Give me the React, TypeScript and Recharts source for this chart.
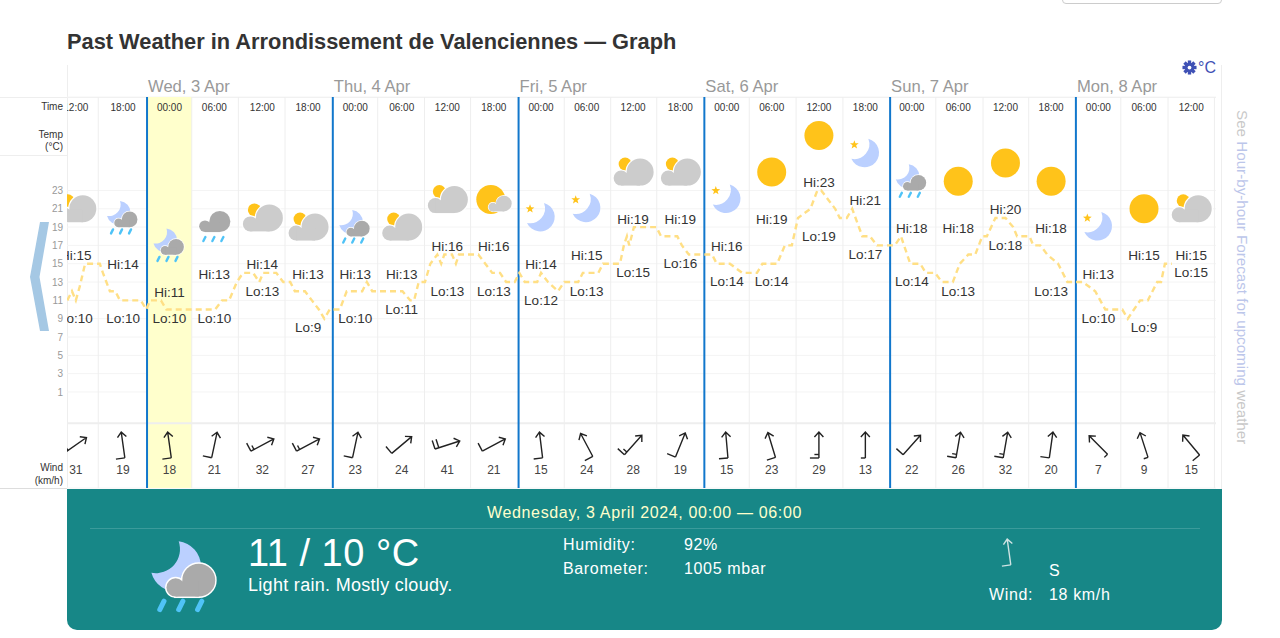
import {
    ComposedChart,
    Line,
    Scatter,
    XAxis,
    YAxis,
    CartesianGrid,
    ReferenceLine,
    ReferenceArea
} from 'recharts';

const FONT = '"Liberation Sans", Arial, sans-serif';

// hours counted from Wed 3 Apr 00:00
const HOUR_MIN = -10.34;
const HOUR_MAX = 138.1;
const TEMP_MIN = -9.48;
const TEMP_MAX = 33.2;

const tempTicks = [1, 3, 5, 7, 9, 11, 13, 15, 17, 19, 21, 23];
const dayStarts = [0, 24, 48, 72, 96, 120];
const dayLabels = ['Wed, 3 Apr', 'Thu, 4 Apr', 'Fri, 5 Apr', 'Sat, 6 Apr', 'Sun, 7 Apr', 'Mon, 8 Apr'];
const columnEdges = [-6.3, 5.78, 11.8, 17.83, 29.8, 35.85, 41.8, 53.9, 59.9, 65.85, 77.8, 83.85, 89.9, 101.9, 108, 113.9, 125.8, 131.9, 137.9];

const slotHours = [-9.2, -3.1, 2.9, 8.7, 14.9, 20.8, 26.9, 32.9, 38.8, 44.8, 50.9, 56.8, 62.8, 68.9, 74.9, 80.7, 86.8, 92.8, 98.8, 104.8, 110.9, 116.8, 122.9, 128.8, 134.9];
const slotTimes = ['12:00', '18:00', '00:00', '06:00', '12:00', '18:00', '00:00', '06:00', '12:00', '18:00', '00:00', '06:00', '12:00', '18:00', '00:00', '06:00', '12:00', '18:00', '00:00', '06:00', '12:00', '18:00', '00:00', '06:00', '12:00'];
const hiTemps = [15, 14, 11, 13, 14, 13, 13, 13, 16, 16, 14, 15, 19, 19, 16, 19, 23, 21, 18, 18, 20, 18, 13, 15, 15];
const loTemps = [10, 10, 10, 10, 13, 9, 10, 11, 13, 13, 12, 13, 15, 16, 14, 14, 19, 17, 14, 13, 18, 13, 10, 9, 15];
const windSpeeds = [31, 19, 18, 21, 32, 27, 23, 24, 41, 21, 15, 24, 28, 19, 15, 23, 29, 13, 22, 26, 32, 20, 7, 9, 15];
const windBearings = [55, 352, 352, 12, 62, 62, 12, 50, 72, 62, 353, 332, 42, 22, 355, 343, 0, 0, 42, 10, 10, 8, 315, 342, 320];
const slotIcons = ['partly', 'moonRain', 'moonRain', 'cloudRain', 'partly', 'partly', 'moonRain', 'partly', 'partly', 'sunCloud', 'moon', 'moon', 'partly', 'partly', 'moon', 'sun', 'sun', 'moon', 'moonRain', 'sun', 'sun', 'sun', 'moon', 'sun', 'partly'];

const lineHours = [-10.3, -9.7, -9.2, -8.7, -8, -7.4, -6.1, -5.7, -4.8, -4.1, -3.5, -0.8, -0.1, 0.4, 1.8, 2.5, 8.8, 9.7, 10.6, 11.6, 12.4, 13.7, 14.5, 15, 16.7, 17.6, 18.5, 19.1, 20.4, 21.3, 22.2, 22.9, 23.6, 24.9, 25.8, 27.8, 28.4, 29.1, 33, 34, 34.5, 35.1, 35.9, 36.6, 37.5, 38, 38.4, 39.4, 39.9, 40.3, 42.8, 43.7, 44.6, 45.6, 46.4, 47.5, 48.1, 48.8, 50.4, 50.9, 51.8, 53.1, 53.9, 55.7, 56.3, 58.3, 58.9, 61.1, 61.6, 62, 62.3, 62.9, 65.8, 66.4, 68.5, 69.1, 70, 73, 73.6, 75.3, 76.9, 78.8, 79.5, 81.4, 82.4, 83.3, 84.1, 85.7, 86.6, 87.1, 88.9, 89.5, 90.4, 91.1, 92.4, 93.4, 94.3, 96.6, 97.4, 98.6, 99.9, 100.6, 101.8, 102.7, 104.1, 105, 106.1, 107, 107.9, 108.5, 109.6, 110.9, 111.9, 112.4, 114, 114.5, 115.4, 116.3, 117.7, 118.9, 120.9, 122.5, 123.8, 126, 126.7, 128.3, 129.3, 130.5, 131, 131.5, 132.4];
const lineTemps = [11, 12, 11, 12.5, 15, 15, 15, 14, 12, 12, 11, 11, 10, 11, 11, 10, 10, 11, 11, 13, 14, 14, 13, 14, 14, 13, 13, 12, 12, 11, 10, 9, 10, 10, 12, 12, 13, 12, 12, 11, 11, 13, 13, 15, 16, 15, 16, 16, 15, 16, 16, 15, 14, 14, 13, 13, 14, 13, 13, 14, 13, 12, 13, 13, 14, 14, 15, 15, 17, 18, 17, 19, 19, 18, 18, 17, 16, 16, 15, 15, 14, 14, 15, 15, 17, 17, 20, 21, 23, 23, 21, 20, 20, 21, 18, 18, 17, 17, 18, 15, 15, 14, 14, 13, 13, 15, 16, 16, 18, 18, 20, 20, 19, 18, 18, 17, 17, 16, 15, 13, 13, 12, 10, 10, 9, 11, 11, 13, 13, 15, 15];

const lineData = lineHours.map((h, i) => ({ h, t: lineTemps[i] }));
const hiData = slotHours.map((h, i) => ({ h, t: hiTemps[i], icon: slotIcons[i] }));
const loData = slotHours.map((h, i) => ({ h, t: loTemps[i] }));

const CLIP = 'url(#plotClip)';
const GOLD = '#ffc31a';
const MOON = '#bbd0ff';
const RAIN = '#4fc3f7';

const Cloud = ({ fill, transform }: { fill: string; transform?: string }) => {
    const parts = (props: any) => (
        <g {...props}>
            <circle cx={7} cy={0} r={13.5} />
            <circle cx={-12} cy={6} r={7.5} />
            <rect x={-12} y={1} width={19} height={12.5} />
        </g>
    );
    return (
        <g transform={transform}>
            {parts({ fill: '#fff', stroke: '#fff', strokeWidth: 2.4 })}
            {parts({ fill })}
        </g>
    );
};

const Drops = ({ y, xs }: { y: number; xs: number[] }) => (
    <g stroke={RAIN} strokeWidth={2.4} strokeLinecap="round">
        {xs.map(x => <line key={x} x1={x + 1} y1={y} x2={x - 1} y2={y + 4} />)}
    </g>
);

const Star = ({ x, y }: { x: number; y: number }) => {
    const pts = Array.from({ length: 10 }, (_, i) => {
        const r = i % 2 ? 1.9 : 4.6;
        const a = (Math.PI / 5) * i - Math.PI / 2;
        return `${x + r * Math.cos(a)},${y + r * Math.sin(a)}`;
    }).join(' ');
    return <polygon points={pts} fill={GOLD} />;
};

const MoonRain = () => (
    <g>
        <path d="M-3,-17 A12,12 0 1 1 -16,-2 A11.5,11.5 0 0 0 -3,-17 Z" fill={MOON} />
        <Cloud fill="#aaaaaa" transform="translate(2.5,1.5) scale(0.58)" />
        <Drops y={11.5} xs={[-11, -2, 7]} />
    </g>
);

const WeatherIcon = ({ kind }: { kind: string }) => {
    if (kind === 'sun') return <circle r={14.5} fill={GOLD} />;
    if (kind === 'partly') {
        return (
            <g>
                <circle cx={-8} cy={-8} r={6.5} fill={GOLD} />
                <Cloud fill="#cccccc" />
            </g>
        );
    }
    if (kind === 'sunCloud') {
        return (
            <g>
                <circle cx={-3} cy={0} r={14.5} fill={GOLD} />
                <Cloud fill="#cccccc" transform="translate(6,4) scale(0.58)" />
            </g>
        );
    }
    if (kind === 'moon') {
        return (
            <g>
                <path d="M3,-15 A14.5,14.5 0 1 1 -14,5 A15,15 0 0 0 3,-15 Z" fill={MOON} />
                <Star x={-11} y={-9} />
            </g>
        );
    }
    if (kind === 'cloudRain') {
        return (
            <g>
                <Cloud fill="#aaaaaa" transform="translate(0,-5.5) scale(0.78)" />
                <Drops y={10} xs={[-10, -1, 8]} />
            </g>
        );
    }
    return <MoonRain />;
};

// wind barb, pointing north before rotation, feathers on the tail
const WindBarb = ({ bearing, speed, color = '#222' }: { bearing: number; speed: number; color?: string }) => {
    const long = speed >= 40 ? 2 : speed >= 15 ? 1 : 0;
    const short = speed < 15 || (speed >= 26 && speed < 40) ? 1 : 0;
    return (
        <g transform={`rotate(${bearing})`} stroke={color} strokeWidth={1.4} fill="none">
            <path d="M0,13 L0,-13 M-4.5,-8 L0,-13 L4.5,-8" />
            {long > 0 && <line x1={0} y1={13} x2={-9} y2={13} />}
            {long > 1 && <line x1={0} y1={9} x2={-9} y2={9} />}
            {short > 0 && <line x1={0} y1={long ? 9.5 : 13} x2={-4.5} y2={long ? 9.5 : 13} />}
        </g>
    );
};

// one tick per table column: the time on top, the wind row below
const SlotTick = ({ x, index }: any) => (
    <g clipPath={CLIP}>
        <text x={x} y={110.5} fill="#333" fontSize={10} textAnchor="middle" fontFamily={FONT}>{slotTimes[index]}</text>
        <g transform={`translate(${x},445)`}>
            <WindBarb bearing={windBearings[index]} speed={windSpeeds[index]} />
        </g>
        <text x={x} y={474} fill="#444" fontSize={12} textAnchor="middle" fontFamily={FONT}>{windSpeeds[index]}</text>
    </g>
);

const DayLabel = (text: string) => (p: any) => (
    <text x={p.viewBox.x + 1} y={92} fill="#999" fontSize={16.6} fontFamily={FONT}>{text}</text>
);

const HiMark = ({ cx, cy, payload }: any) => (
    <g clipPath={CLIP}>
        <g transform={`translate(${cx},${cy - 55})`}>
            <WeatherIcon kind={payload.icon} />
        </g>
        <text x={cx} y={cy - 3.5} fill="#333" fontSize={13.5} textAnchor="middle" fontFamily={FONT}>Hi:{payload.t}</text>
    </g>
);

const LoMark = ({ cx, cy, payload }: any) => (
    <text x={cx} y={cy + 13.5} fill="#333" fontSize={13.5} textAnchor="middle" fontFamily={FONT} clipPath={CLIP}>Lo:{payload.t}</text>
);

const label = (top: number, text: string) => (
    <div style={{ position: 'absolute', right: 1217, top, fontSize: 10, color: '#333', whiteSpace: 'nowrap', lineHeight: '12px' }}>{text}</div>
);
const box = (left: number, top: number, width: number, height: number, background: string) => (
    <div style={{ position: 'absolute', left, top, width, height, background }} />
);
const panelText = (left: number, top: number, text: string, style?: any) => (
    <div style={{ position: 'absolute', left, top, whiteSpace: 'nowrap', fontSize: 16, letterSpacing: 0.65, color: '#fff', lineHeight: '18px', ...style }}>{text}</div>
);

export default function App() {
    return (
        <div style={{ position: 'absolute', left: 0, top: 0, width: 1280, height: 638, overflow: 'hidden', background: '#fff', fontFamily: FONT }}>
            <div style={{ position: 'absolute', left: 1062, top: -20, width: 158, height: 22, border: '1px solid #ccc', borderRadius: 4 }} />
            <div style={{ position: 'absolute', left: 67, top: 29, fontSize: 21.8, fontWeight: 700, color: '#333', whiteSpace: 'nowrap' }}>
                Past Weather in Arrondissement de Valenciennes — Graph
            </div>

            {box(67, 65, 1, 423, '#eee')}
            {box(1221, 65, 1, 424, '#eee')}
            {box(0, 97, 1216, 1, '#eee')}
            {box(0, 155, 67, 1, '#eee')}
            {box(0, 488, 67, 1, '#ddd')}

            <div style={{ position: 'absolute', left: 0, top: 0 }}>
                <ComposedChart width={1280} height={638} margin={{ top: 97, right: 64, bottom: 150, left: 0 }}>
                    <defs>
                        <clipPath id="plotClip">
                            <rect x={67} y={0} width={1149} height={638} />
                        </clipPath>
                    </defs>
                    <CartesianGrid vertical={false} stroke="#f4f4f4" />
                    <XAxis dataKey="h" type="number" domain={[HOUR_MIN, HOUR_MAX]} allowDataOverflow ticks={slotHours} interval={0} mirror axisLine={false} tickLine={false} tick={(p: any) => <SlotTick {...p} />} />
                    <YAxis dataKey="t" type="number" domain={[TEMP_MIN, TEMP_MAX]} allowDataOverflow ticks={tempTicks} interval={0} width={67} axisLine={false} tickSize={0} tickMargin={4} tick={{ fontSize: 10, fill: '#999', fontFamily: FONT }} />

                    <ReferenceLine y={-2.4} stroke="#eeeeee" strokeWidth={2} />
                    <ReferenceArea x1={0} x2={5.78} fill="#ffffcc" fillOpacity={1} stroke="none" />
                    {columnEdges.map(h => <ReferenceLine key={h} x={h} stroke="#eeeeee" />)}
                    {dayStarts.map((h, i) => <ReferenceLine key={h} x={h} stroke="#1177cc" strokeWidth={2} label={DayLabel(dayLabels[i])} />)}

                    <Line data={lineData} dataKey="t" type="linear" stroke="#ffdf85" strokeWidth={2.4} strokeDasharray="6 4" dot={false} isAnimationActive={false} />
                    <Scatter data={hiData} dataKey="t" isAnimationActive={false} shape={(p: any) => <HiMark {...p} />} />
                    <Scatter data={loData} dataKey="t" isAnimationActive={false} shape={(p: any) => <LoMark {...p} />} />
                </ComposedChart>
            </div>

            <svg style={{ position: 'absolute', left: 0, top: 0 }} width={67} height={400}>
                <polygon points="40,222 49,222 39.5,277 49,331 40,331 30,277" fill="#a5c8e4" />
            </svg>

            {label(101, 'Time')}
            {label(129, 'Temp')}
            {label(141, '(°C)')}
            {label(462, 'Wind')}
            {label(475, '(km/h)')}

            <svg style={{ position: 'absolute', left: 1182, top: 60 }} width={15} height={15} viewBox="-8 -8 16 16">
                {[0, 45, 90, 135].map(a => <rect key={a} x={-1.8} y={-7.5} width={3.6} height={15} fill="#3f51b5" transform={`rotate(${a})`} />)}
                <circle r={5.2} fill="#3f51b5" />
                <circle r={2} fill="#fff" />
            </svg>
            <div style={{ position: 'absolute', left: 1198, top: 59, fontSize: 16, color: '#3f51b5' }}>°C</div>

            <div style={{ position: 'absolute', left: 1234, top: 110, writingMode: 'vertical-rl', fontSize: 15.2, whiteSpace: 'nowrap', color: '#c8c8c8' }}>
                See <span style={{ color: '#bcc6ea' }}>Hour-by-hour Forecast for upcoming</span> weather
            </div>

            <div style={{ position: 'absolute', left: 67, top: 489, width: 1155, height: 141, background: '#178787', borderRadius: '0 0 10px 10px' }} />
            {panelText(67, 504, 'Wednesday, 3 April 2024, 00:00 — 06:00', { width: 1155, textAlign: 'center', color: '#ffffcc', fontSize: 16 })}
            {box(90, 528, 1110, 1, '#3b9b9b')}
            <svg style={{ position: 'absolute', left: 145, top: 537 }} width={80} height={80} viewBox="-40 -40 80 80">
                <g transform="scale(2.1)"><MoonRain /></g>
            </svg>
            {panelText(248, 531, '11 / 10 °C', { fontSize: 38, letterSpacing: 0.5, lineHeight: '44px' })}
            {panelText(248, 575, 'Light rain. Mostly cloudy.', { fontSize: 18, letterSpacing: 0.3, lineHeight: '20px' })}
            {panelText(563, 536, 'Humidity:')}
            {panelText(684, 536, '92%')}
            {panelText(563, 560, 'Barometer:')}
            {panelText(684, 560, '1005 mbar')}
            <svg style={{ position: 'absolute', left: 994, top: 537 }} width={30} height={30} viewBox="-15 -15 30 30">
                <WindBarb bearing={352} speed={18} color="#cfe3e3" />
            </svg>
            {panelText(1049, 562, 'S')}
            {panelText(989, 586, 'Wind:')}
            {panelText(1049, 586, '18 km/h')}
        </div>
    );
}
